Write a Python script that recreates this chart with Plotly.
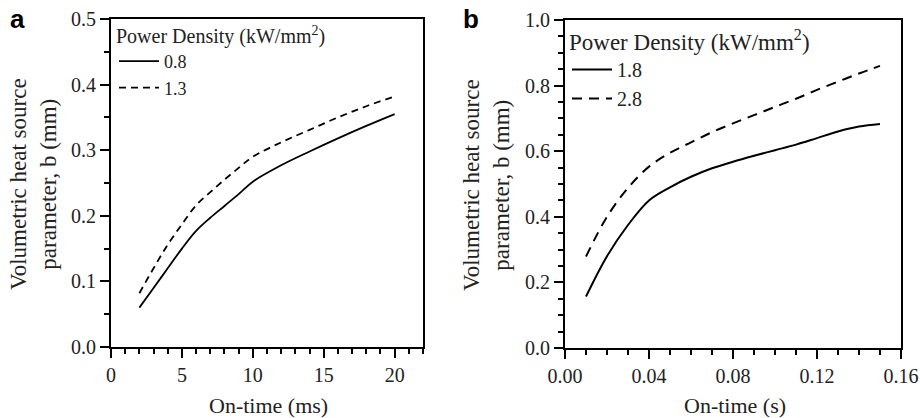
import plotly.graph_objects as go

# Panel a data: on-time (ms) vs b (mm)
a_time_ms = [2, 3, 4, 5, 6, 7, 8, 9, 10, 12, 14, 16, 18, 20]
a_b_08 = [0.060, 0.090, 0.120, 0.150, 0.177, 0.197, 0.215, 0.233, 0.252, 0.277, 0.298, 0.318, 0.337, 0.355]
a_b_13 = [0.082, 0.120, 0.156, 0.187, 0.216, 0.236, 0.255, 0.273, 0.290, 0.312, 0.331, 0.350, 0.367, 0.382]

# Panel b data: on-time (s) vs b (mm)
b_time_s = [0.01, 0.02, 0.03, 0.04, 0.05, 0.06, 0.07, 0.08, 0.09, 0.10, 0.11, 0.12, 0.13, 0.14, 0.15]
b_b_18 = [0.157, 0.280, 0.375, 0.450, 0.490, 0.522, 0.548, 0.568, 0.586, 0.603, 0.620, 0.640, 0.660, 0.675, 0.683]
b_b_28 = [0.279, 0.400, 0.488, 0.553, 0.595, 0.627, 0.658, 0.685, 0.710, 0.735, 0.760, 0.787, 0.812, 0.837, 0.860]

legend_title = "Power Density (kW/mm<sup>2</sup>)"
FONT = "Liberation Serif, serif"
W, H = 920, 418

fig = go.Figure()
fig.add_trace(go.Scatter(x=a_time_ms, y=a_b_08, mode="lines", name="0.8",
                         line=dict(color="black", width=1.8, shape="spline"),
                         xaxis="x", yaxis="y", legend="legend"))
fig.add_trace(go.Scatter(x=a_time_ms, y=a_b_13, mode="lines", name="1.3",
                         line=dict(color="black", width=1.8, dash="7px,5px", shape="spline"),
                         xaxis="x", yaxis="y", legend="legend"))
fig.add_trace(go.Scatter(x=b_time_s, y=b_b_18, mode="lines", name="1.8",
                         line=dict(color="black", width=2, shape="spline"),
                         xaxis="x2", yaxis="y2", legend="legend2"))
fig.add_trace(go.Scatter(x=b_time_s, y=b_b_28, mode="lines", name="2.8",
                         line=dict(color="black", width=2, dash="10px,7px", shape="spline"),
                         xaxis="x2", yaxis="y2", legend="legend2"))

def axis_style():
    return dict(showline=True, linecolor="black", linewidth=1.8, mirror=True,
                ticks="outside", ticklen=9, tickwidth=1.5, tickcolor="black",
                showgrid=False, zeroline=False, automargin=False,
                tickfont=dict(family=FONT, size=20, color="#222"))

def minor_style(d):
    return dict(dtick=d, ticks="outside", ticklen=5, tickwidth=1.5, tickcolor="black", showgrid=False)

fig.update_layout(
    width=W, height=H,
    margin=dict(l=0, r=0, t=0, b=0, autoexpand=False),
    paper_bgcolor="white", plot_bgcolor="white",
    font=dict(family=FONT, color="#222"),
    xaxis=dict(domain=[111 / W, 423 / W], range=[0, 22], dtick=5, tickformat="d",
               minor=minor_style(1), anchor="y", **axis_style()),
    yaxis=dict(domain=[1 - 347 / H, 1 - 19 / H], range=[0, 0.5], dtick=0.1, tickformat=".1f",
               minor=minor_style(0.05), anchor="x", **axis_style()),
    xaxis2=dict(domain=[565 / W, 901 / W], range=[0, 0.16], dtick=0.04, tickformat=".2f",
                minor=minor_style(0.01), anchor="y2", **axis_style()),
    yaxis2=dict(domain=[1 - 348 / H, 1 - 20 / H], range=[0, 1.0], dtick=0.2, tickformat=".1f",
                minor=minor_style(0.05), anchor="x2", **axis_style()),
    legend=dict(x=114 / W, y=1 - 17 / H, xanchor="left", yanchor="top",
                bgcolor="rgba(0,0,0,0)", borderwidth=0,
                title=dict(text=legend_title, font=dict(family=FONT, size=20, color="#222")),
                font=dict(family=FONT, size=18, color="#222"), tracegroupgap=0,
                itemwidth=40),
    legend2=dict(x=567 / W, y=1 - 20 / H, xanchor="left", yanchor="top",
                 bgcolor="rgba(0,0,0,0)", borderwidth=0,
                 title=dict(text=legend_title, font=dict(family=FONT, size=23, color="#222")),
                 font=dict(family=FONT, size=20, color="#222"), tracegroupgap=0,
                 itemwidth=40),
    showlegend=True,
)

annotations = [
    dict(text="On-time (ms)", x=268 / W, y=1 - 405 / H, xref="paper", yref="paper",
         showarrow=False, font=dict(family=FONT, size=22, color="#222"),
         xanchor="center", yanchor="middle"),
    dict(text="On-time (s)", x=735 / W, y=1 - 405 / H, xref="paper", yref="paper",
         showarrow=False, font=dict(family=FONT, size=22, color="#222"),
         xanchor="center", yanchor="middle"),
    dict(text="Volumetric heat source<br>parameter, b (mm)", x=33 / W, y=1 - 184 / H,
         xref="paper", yref="paper", showarrow=False, textangle=-90,
         font=dict(family=FONT, size=23, color="#222"), xanchor="center", yanchor="middle"),
    dict(text="Volumetric heat source<br>parameter, b (mm)", x=487 / W, y=1 - 185 / H,
         xref="paper", yref="paper", showarrow=False, textangle=-90,
         font=dict(family=FONT, size=23, color="#222"), xanchor="center", yanchor="middle"),
    dict(text="<b>a</b>", x=17 / W, y=1 - 19 / H, xref="paper", yref="paper",
         showarrow=False, font=dict(family="Liberation Sans", size=26, color="black"),
         xanchor="center", yanchor="middle"),
    dict(text="<b>b</b>", x=471 / W, y=1 - 19 / H, xref="paper", yref="paper",
         showarrow=False, font=dict(family="Liberation Sans", size=26, color="black"),
         xanchor="center", yanchor="middle"),
]
fig.update_layout(annotations=annotations)

fig.write_html("out.html", config={"displayModeBar": False},
               post_script="document.body.style.margin='0px';document.body.style.padding='0px';")
